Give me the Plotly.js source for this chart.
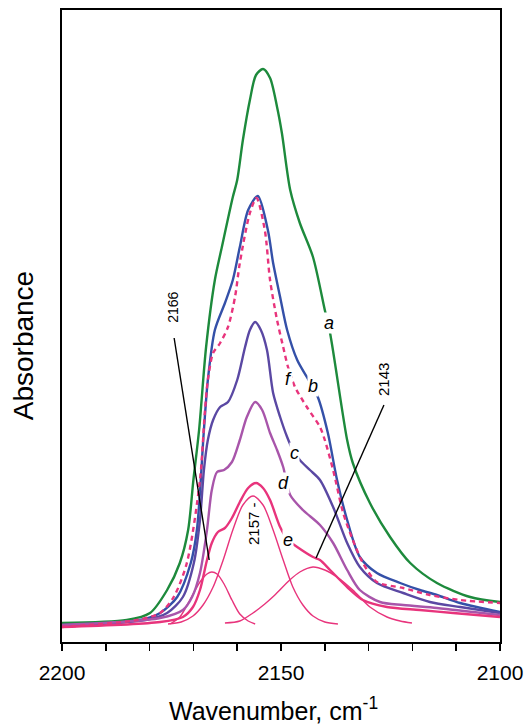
<!DOCTYPE html>
<html>
<head>
<meta charset="utf-8">
<script src="https://cdn.plot.ly/plotly-3.0.1.min.js"></script>
<style>html,body{margin:0;padding:0;background:#fff;}#chart{width:527px;height:728px;}</style>
</head>
<body>
<div id="chart"></div>
<script>
// Curve a
const aWn  = [2200, 2185.2, 2179.9, 2176.0, 2173.1, 2171.2, 2170.0, 2168.7, 2167.1, 2165.1, 2163.5, 2161.0, 2160.0, 2158.7, 2157.1, 2155.7, 2154.1, 2152.5, 2150.9, 2149.8, 2147.9, 2145.7, 2142.7, 2140.0, 2138.8, 2134.9, 2133.6, 2129.7, 2125.1, 2120.5, 2114.4, 2106.8, 2100];
const aAbs = [0.19, 0.22, 0.29, 0.52, 0.79, 1.12, 1.62, 2.12, 2.95, 3.62, 3.95, 4.45, 4.62, 5.02, 5.42, 5.67, 5.73, 5.64, 5.35, 5.09, 4.52, 4.19, 3.85, 3.32, 3.09, 2.02, 1.79, 1.39, 1.05, 0.79, 0.59, 0.45, 0.40];
// Curve b
const bWn  = [2200, 2182.2, 2177.6, 2173.7, 2170.6, 2169.2, 2167.6, 2166.7, 2165.1, 2162.8, 2161.0, 2159.4, 2157.5, 2155.3, 2153.0, 2151.8, 2150.2, 2148.6, 2146.3, 2144.1, 2141.6, 2139.3, 2137.2, 2134.9, 2132.0, 2128.1, 2122.8, 2118.3, 2114.4, 2109.1, 2100];
const bAbs = [0.16, 0.22, 0.29, 0.45, 0.79, 1.12, 2.12, 2.62, 3.12, 3.39, 3.62, 3.95, 4.32, 4.46, 4.12, 3.79, 3.45, 3.12, 2.82, 2.65, 2.45, 2.09, 1.62, 1.22, 0.85, 0.69, 0.59, 0.52, 0.47, 0.39, 0.30];
// Curve f (dashed)
const fWn  = [2200, 2182.9, 2177.6, 2174.5, 2171.5, 2168.5, 2167.4, 2166.7, 2165.5, 2163.9, 2162.1, 2160.5, 2159.4, 2157.1, 2155.6, 2153.7, 2152.5, 2150.9, 2149.5, 2148.4, 2146.8, 2144.1, 2141.1, 2140.0, 2138.1, 2135.8, 2133.6, 2131.3, 2128.1, 2122.1, 2116.0, 2109.1, 2100];
const fAbs = [0.15, 0.22, 0.29, 0.45, 0.79, 1.62, 2.29, 2.62, 2.89, 2.99, 3.15, 3.45, 3.79, 4.29, 4.44, 4.12, 3.62, 3.22, 2.95, 2.75, 2.55, 2.35, 2.15, 2.02, 1.72, 1.29, 1.02, 0.79, 0.60, 0.54, 0.47, 0.42, 0.39];
// Curve c
const cWn  = [2200, 2181.1, 2176.0, 2172.4, 2169.9, 2168.5, 2167.6, 2166.7, 2165.5, 2163.9, 2162.1, 2160.0, 2158.2, 2157.1, 2155.9, 2154.6, 2153.2, 2151.8, 2150.2, 2148.6, 2147.3, 2145.7, 2143.4, 2141.1, 2138.1, 2134.9, 2132.0, 2128.1, 2122.1, 2116.0, 2109.1, 2100];
const cAbs = [0.17, 0.22, 0.29, 0.45, 0.79, 1.22, 1.72, 2.02, 2.22, 2.35, 2.40, 2.62, 2.95, 3.12, 3.20, 3.12, 2.92, 2.49, 2.25, 2.05, 1.92, 1.82, 1.72, 1.62, 1.35, 0.99, 0.75, 0.59, 0.49, 0.40, 0.35, 0.29];
// Curve d
const dWn  = [2200, 2177.6, 2172.4, 2170.3, 2168.5, 2166.9, 2165.8, 2164.6, 2163.0, 2161.2, 2159.4, 2157.8, 2155.9, 2154.3, 2152.5, 2150.9, 2149.5, 2147.9, 2145.0, 2141.1, 2138.1, 2134.9, 2132.0, 2127.4, 2122.1, 2114.4, 2100];
const dAbs = [0.17, 0.24, 0.32, 0.45, 0.69, 1.12, 1.52, 1.70, 1.72, 1.80, 2.02, 2.25, 2.40, 2.32, 2.09, 1.92, 1.75, 1.47, 1.32, 1.17, 0.99, 0.72, 0.52, 0.40, 0.37, 0.34, 0.27];
// Curve e
const eWn  = [2200, 2177.6, 2172.4, 2170.1, 2168.5, 2166.9, 2165.8, 2164.4, 2162.8, 2161.2, 2159.4, 2157.5, 2155.7, 2154.1, 2152.5, 2150.2, 2148.4, 2146.3, 2142.7, 2141.1, 2138.8, 2134.9, 2131.3, 2125.8, 2118.3, 2110.7, 2100];
const eAbs = [0.15, 0.20, 0.25, 0.35, 0.52, 0.82, 0.99, 1.10, 1.14, 1.24, 1.40, 1.54, 1.59, 1.54, 1.42, 1.15, 1.02, 0.95, 0.85, 0.82, 0.72, 0.55, 0.42, 0.35, 0.32, 0.29, 0.25];
// Fitted components of e
const g2166Wn  = [2175.3, 2173.1, 2170.8, 2168.5, 2166.9, 2165.8, 2164.6, 2163.0, 2161.2, 2159.4, 2157.5, 2155.9];
const g2166Abs = [0.18, 0.25, 0.42, 0.60, 0.68, 0.70, 0.68, 0.58, 0.42, 0.28, 0.21, 0.18];
const g2157Wn  = [2175.8, 2172.8, 2170.1, 2167.8, 2165.5, 2163.2, 2161.0, 2158.7, 2156.4, 2154.1, 2151.8, 2149.5, 2147.3, 2145.0, 2142.7, 2140.0, 2137.0];
const g2157Abs = [0.18, 0.20, 0.26, 0.37, 0.55, 0.82, 1.12, 1.37, 1.46, 1.37, 1.12, 0.82, 0.55, 0.37, 0.26, 0.20, 0.18];
const g2143Wn  = [2162.8, 2159.4, 2156.4, 2153.7, 2151.4, 2148.0, 2145.7, 2142.7, 2140.0, 2137.2, 2133.6, 2129.7, 2125.8, 2122.8, 2120.1];
const g2143Abs = [0.19, 0.21, 0.29, 0.38, 0.47, 0.62, 0.70, 0.75, 0.72, 0.65, 0.52, 0.35, 0.25, 0.21, 0.19];

const xTicks = [2200, 2190, 2180, 2170, 2160, 2150, 2140, 2130, 2120, 2110, 2100];
const xTickText = ['2200', ' ', ' ', ' ', ' ', '2150', ' ', ' ', ' ', ' ', '2100'];

const PINK = '#e8347c';
function tr(x, y, color, width, dash) {
  return {x: x, y: y, type: 'scatter', mode: 'lines', hoverinfo: 'skip',
    line: {color: color, width: width, dash: dash || 'solid', shape: 'spline', smoothing: 0.8}};
}
const data = [
  tr(g2166Wn, g2166Abs, PINK, 1.4),
  tr(g2157Wn, g2157Abs, PINK, 1.4),
  tr(g2143Wn, g2143Abs, PINK, 1.4),
  tr(aWn, aAbs, '#1d8a3c', 2.4),
  tr(bWn, bAbs, '#3450a8', 2.4),
  tr(cWn, cAbs, '#5a48a3', 2.4),
  tr(dWn, dAbs, '#a855aa', 2.4),
  tr(eWn, eAbs, PINK, 2.4),
  tr(fWn, fAbs, PINK, 2.4, '5px,4px')
];

const FONT = 'Liberation Sans, Arial, sans-serif';
function lab(t, x, y) {
  return {text: '<i>' + t + '</i>', x: x, y: y, xref: 'x', yref: 'y', showarrow: false,
    font: {family: FONT, size: 18, color: '#000'}, bgcolor: '#fff', borderpad: 0};
}
function vlab(t, x, y, s) {
  return {text: t, x: x, y: y, xref: 'x', yref: 'y', showarrow: false, textangle: -90,
    font: {family: FONT, size: s, color: '#000'}};
}
const annotations = [
  lab('a', 2139.0, 3.19),
  lab('b', 2142.7, 2.56),
  lab('f', 2148.2, 2.63),
  lab('c', 2147.0, 1.89),
  lab('d', 2149.5, 1.59),
  lab('e', 2148.4, 1.02),
  vlab('2166', 2174.7, 3.35, 14),
  vlab('2143', 2126.7, 2.62, 15),
  vlab('2157 -', 2156.4, 1.19, 15),
  {text: 'Wavenumber, cm<sup>-1</sup>', xref: 'paper', yref: 'paper', x: 0.482, y: -0.1345,
   xanchor: 'center', yanchor: 'bottom', showarrow: false, font: {family: FONT, size: 25, color: '#000'}},
  {text: 'Absorbance', xref: 'paper', yref: 'paper', x: -0.089, y: 0.468, textangle: -90,
   xanchor: 'center', yanchor: 'middle', showarrow: false, font: {family: FONT, size: 28, color: '#000'}}
];
const shapes = [
  {type: 'line', xref: 'x', yref: 'y', x0: 2174.4, y0: 3.04, x1: 2166.4, y1: 0.82, line: {color: '#000', width: 1.4}},
  {type: 'line', xref: 'x', yref: 'y', x0: 2142.0, y0: 0.84, x1: 2126.5, y1: 2.37, line: {color: '#000', width: 1.4}}
];

const layout = {
  width: 527, height: 728,
  margin: {l: 62, r: 27, t: 10, b: 86},
  paper_bgcolor: '#fff', plot_bgcolor: '#fff',
  showlegend: false,
  font: {family: FONT, color: '#000'},
  xaxis: {range: [2200, 2100], showgrid: false, zeroline: false, showline: true, mirror: true,
    linecolor: '#000', linewidth: 2, ticks: 'outside', ticklen: 7, tickwidth: 1.5, tickcolor: '#000',
    ticklabelstandoff: 4,
    tickmode: 'array', tickvals: xTicks, ticktext: xTickText, tickfont: {family: FONT, size: 21, color: '#000'}},
  yaxis: {range: [0, 6.32], showgrid: false, zeroline: false, showline: true, mirror: true,
    linecolor: '#000', linewidth: 2, ticks: '', showticklabels: false},
  annotations: annotations,
  shapes: shapes
};
Plotly.newPlot('chart', data, layout, {staticPlot: true, displayModeBar: false});
</script>
</body>
</html>
